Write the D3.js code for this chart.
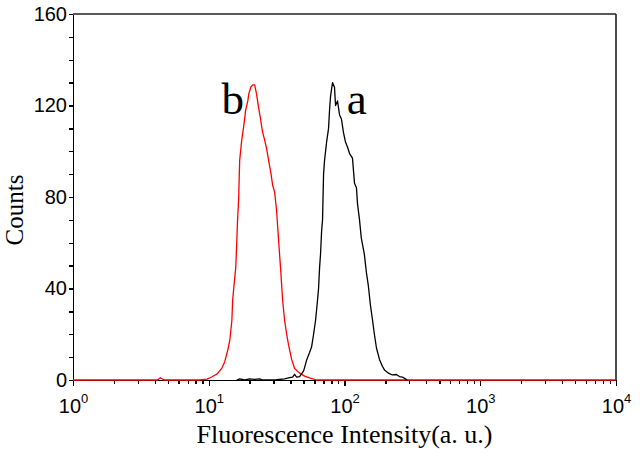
<!DOCTYPE html>
<meta charset="utf-8">
<style>
body { margin: 0; background: #fff; }
.axis path, .axis line { fill: none; stroke: #000; stroke-width: 1.4px; shape-rendering: crispEdges; }
.axis text { font-family: "Liberation Sans", Arial, sans-serif; font-size: 20px; fill: #000; }
.title { font-family: "Liberation Serif", "Times New Roman", serif; fill: #000; }
.curve { fill: none; stroke-width: 1.3px; stroke-linejoin: round; }
</style>
<body>
<script src="https://cdn.jsdelivr.net/npm/d3@7"></script>
<script>

// fluorescence intensity (a.u.) and counts
var redX = [1, 4.2, 4.4, 4.7, 8.6, 9.7, 10.5, 11.5, 12.5, 13.1, 13.8, 14.3, 14.8, 15.0, 15.5, 15.8, 16.1, 16.3, 16.6, 16.9, 17.5, 18.1, 18.7, 19.4, 19.7, 20.4, 21.1, 21.8, 22.5, 23.3, 24.1, 24.5, 25.0, 25.8, 26.7, 27.6, 28.6, 29.6, 30.6, 31.6, 32.7, 33.8, 35.0, 36.2, 37.5, 38.8, 40.8, 42.9, 46.7, 50.8, 55.3, 62.3, 10000];
var redY = [0, 0, 1, 0, 0, 0.4, 1.3, 2.6, 5.2, 7.9, 13, 17.5, 26, 35, 44, 49, 61, 70, 79, 96, 105, 111, 118, 122, 125, 128, 129, 129, 125, 119, 114, 111, 108, 105, 101, 96, 91, 85, 82, 74, 61, 49, 35, 26, 20, 15, 9, 5, 3, 1.7, 0.9, 0, 0];

var blackX = [16.1, 16.9, 18.4, 20.0, 21.8, 23.7, 25.0, 30.6, 36.2, 39.4, 41.5, 42.9, 44.4, 46.7, 50.0, 52.6, 55.3, 57.2, 59.2, 61.2, 63.3, 64.4, 65.5, 66.6, 67.8, 68.9, 70.1, 71.3, 73.8, 76.3, 77.6, 78.9, 81.6, 84.4, 85.9, 88.8, 91.9, 95.0, 98.4, 101.7, 105, 109, 114.5, 118.5, 122.5, 124.7, 129, 133, 140, 145, 150, 155, 161, 166, 172, 181, 190, 197, 211, 225, 241, 254, 267, 281, 290];
var blackY = [0, 0.5, 0, 0.5, 0.3, 0.5, 0, 0, 0.5, 1, 1.3, 2.5, 1.3, 1.5, 4, 8.7, 12, 14.4, 20, 26, 35, 40, 49, 55, 65, 70, 90, 96, 104, 110, 118, 124, 130, 128, 120, 122, 116, 114, 108, 104, 102, 99, 97, 86, 84, 77, 70, 62, 55, 47, 41, 33, 26, 20, 14, 9, 6, 4.4, 3, 2.2, 2.4, 1.5, 1.3, 0.5, 0];

var xMajor = [1, 10, 100, 1000, 10000];
var xExp = ["0", "1", "2", "3", "4"];
var yMajor = [0, 40, 80, 120, 160];

var margin = {top: 14, right: 24, bottom: 76, left: 73},
    width = 640 - margin.left - margin.right,
    height = 456 - margin.top - margin.bottom;

var svg = d3.select("body").append("svg")
    .attr("width", 640)
    .attr("height", 456)
  .append("g")
    .attr("transform", "translate(" + margin.left + "," + margin.top + ")");

var x = d3.scaleLog().domain([1, 10000]).range([0, width]);
var y = d3.scaleLinear().domain([0, 160]).range([height, 0]);

// minor ticks
var xMinor = [];
for (var d = 1; d < 10000; d *= 10) {
  for (var k = 2; k < 10; k++) xMinor.push(d * k);
}
var yMinor = d3.range(0, 161, 10).filter(function(v) { return v % 40 != 0; });

svg.append("g")
    .attr("class", "axis")
    .attr("transform", "translate(0," + height + ")")
    .call(d3.axisBottom(x).tickValues(xMinor).tickSize(4).tickFormat("").tickSizeOuter(0));

var xAxisG = svg.append("g")
    .attr("class", "axis")
    .attr("transform", "translate(0," + height + ")")
    .call(d3.axisBottom(x).tickValues(xMajor).tickSize(6).tickFormat("").tickSizeOuter(0));

xAxisG.selectAll(".tick").append("text")
    .attr("y", 33)
    .attr("text-anchor", "middle")
    .each(function(d, i) {
      var t = d3.select(this);
      t.append("tspan").text("10");
      t.append("tspan").attr("dy", -10).style("font-size", "13px").text(xExp[i]);
    });

svg.append("g")
    .attr("class", "axis")
    .call(d3.axisLeft(y).tickValues(yMinor).tickSize(4).tickFormat("").tickSizeOuter(0));

svg.append("g")
    .attr("class", "axis")
    .call(d3.axisLeft(y).tickValues(yMajor).tickSize(4).tickPadding(2).tickSizeOuter(0));

// top and right frame
svg.append("line").attr("x1", 0).attr("x2", width).attr("y1", 0).attr("y2", 0)
    .attr("stroke", "#222").attr("stroke-width", 1.4);
svg.append("line").attr("x1", width).attr("x2", width).attr("y1", 0).attr("y2", height)
    .attr("stroke", "#222").attr("stroke-width", 1.6);

var line = d3.line()
    .x(function(d) { return x(d[0]); })
    .y(function(d) { return y(d[1]); });

svg.append("path")
    .datum(d3.zip(redX, redY))
    .attr("class", "curve")
    .attr("stroke", "#ff0000")
    .attr("d", line);

svg.append("path")
    .datum(d3.zip(blackX, blackY))
    .attr("class", "curve")
    .attr("stroke", "#000")
    .attr("d", line);

// curve labels
svg.append("text").attr("class", "title")
    .attr("x", x(12.4)).attr("y", y(116.5))
    .style("font-size", "45px")
    .text("b");
svg.append("text").attr("class", "title")
    .attr("x", x(104)).attr("y", y(116.5))
    .style("font-size", "45px")
    .text("a");

svg.append("text").attr("class", "title")
    .attr("x", width / 2).attr("y", height + 63)
    .attr("text-anchor", "middle")
    .style("font-size", "26px")
    .text("Fluorescence Intensity(a. u.)");

svg.append("text").attr("class", "title")
    .attr("transform", "rotate(-90)")
    .attr("x", -196).attr("y", -50)
    .attr("text-anchor", "middle")
    .style("font-size", "25px")
    .text("Counts");

</script>
